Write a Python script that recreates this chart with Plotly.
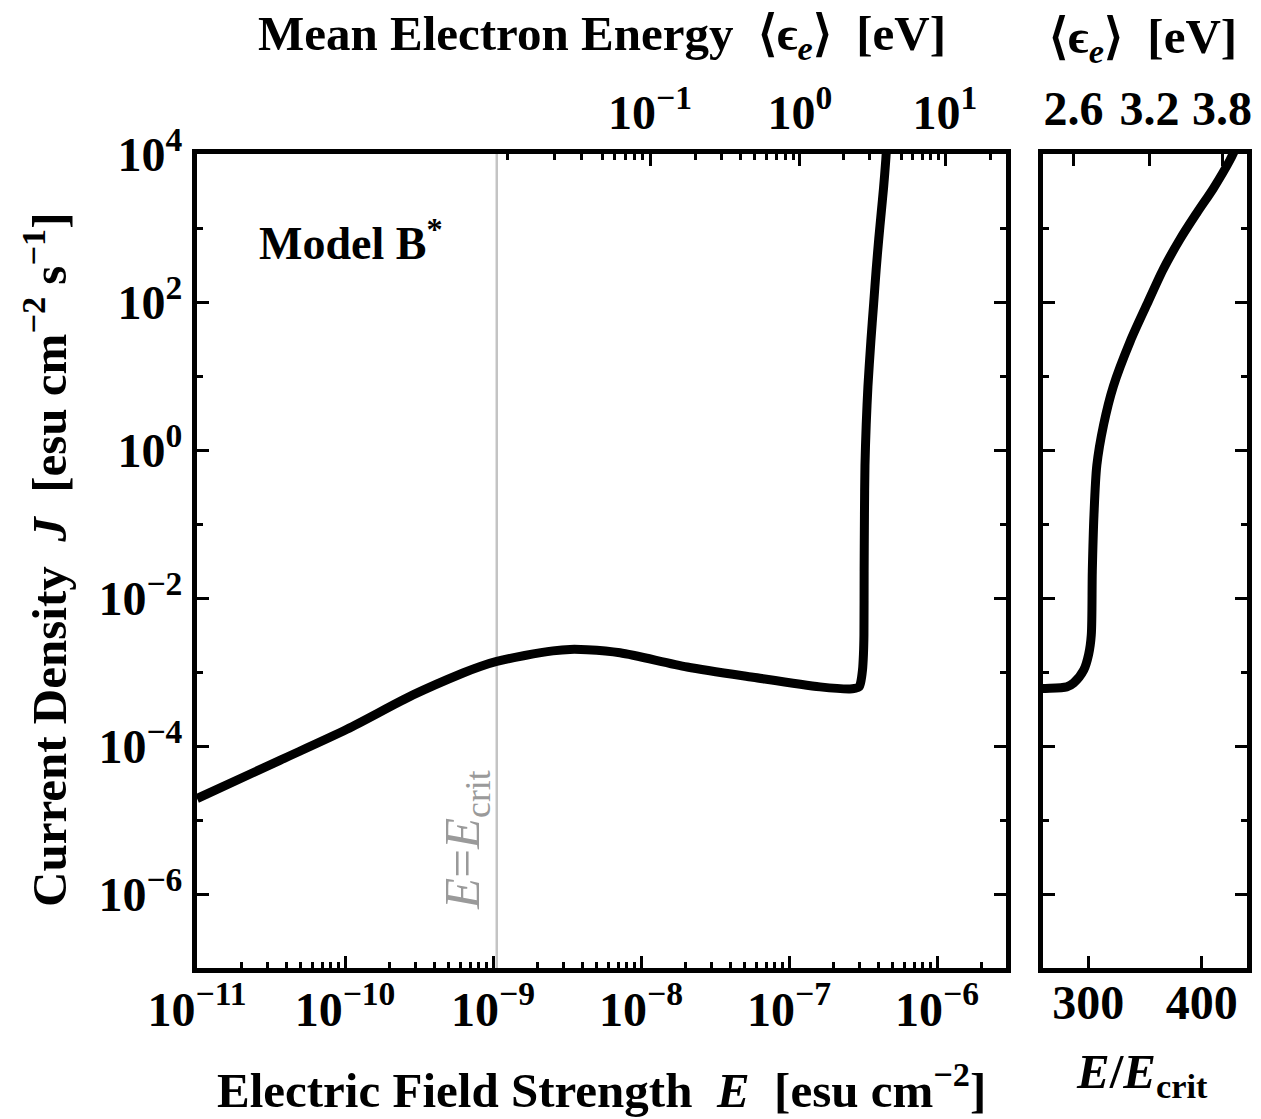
import numpy as np
import plotly.graph_objects as go

W, H = 1261, 1119
FONT = "Liberation Serif"

# Critical field strength [esu cm^-2]
E_CRIT = 1.06e-9

# Low-field branch: field strength E [esu cm^-2] and current density J [esu cm^-2 s^-1]
field_low = [1.0e-11, 3.63e-11, 1.03e-10, 2.88e-10, 6.27e-10, 8.2e-10, 1.06e-9,
             1.64e-9, 2.54e-9, 3.31e-9, 4.32e-9, 7.21e-9, 2.05e-8, 5.71e-8,
             1.62e-7, 2.58e-7]
current_low = [1.95e-5, 6.4e-5, 1.68e-4, 4.9e-4, 9.7e-4, 1.19e-3, 1.39e-3,
               1.67e-3, 1.93e-3, 2.02e-3, 2.0e-3, 1.82e-3, 1.17e-3, 8.5e-4,
               6.3e-4, 5.9e-4]

# Breakdown branch, given in units of E / E_crit
ratio_high = [262, 281, 287, 296, 300.3, 302.6, 303.5, 305, 307.5, 313.5, 322,
              337, 352, 366, 381, 396, 410.5, 425, 430]
current_high = [6.0e-4, 6.3e-4, 7.1e-4, 1.07e-3, 1.74e-3, 3.16e-3, 2.29e-2, 0.135,
                0.62, 2.2, 7.2, 29.5, 95, 275, 710, 1620, 3470, 8300, 1.2e4]

# Mean electron energy scale (top axis of the left panel): energy [eV] vs field E
energy_anchor_eV = [0.02, 0.03, 0.05, 0.1, 1, 10, 20]
energy_anchor_E = [1.245e-9, 2.62e-9, 5.45e-9, 1.151e-8, 1.186e-7, 1.132e-6, 2.28e-6]
energy_major_eV = [0.1, 1, 10]
energy_major_text = ["10<sup>\u22121</sup>", "10<sup>0</sup>", "10<sup>1</sup>"]
energy_minor_eV = [0.02, 0.03, 0.04, 0.05, 0.06, 0.07, 0.08, 0.09,
                   0.2, 0.3, 0.4, 0.5, 0.6, 0.7, 0.8, 0.9,
                   2, 3, 4, 5, 6, 7, 8, 9, 20]

# Mean electron energy scale of the right panel (positions in E / E_crit)
right_energy_text = ["2.6", "3.2", "3.8"]
right_energy_ratio = [287, 354, 418]

# Tick labels
x_major_exp = [-11, -10, -9, -8, -7, -6]
y_major_exp = [4, 2, 0, -2, -4, -6]
y_minor_exp = [3, 1, -1, -3, -5]
ratio_ticks = [300, 400]

field_all = np.concatenate([field_low, np.array(ratio_high) * E_CRIT])
current_all = np.concatenate([current_low, current_high])


def energy_to_field(ev):
    return 10 ** np.interp(np.log10(ev), np.log10(energy_anchor_eV), np.log10(energy_anchor_E))


def sup_label(e):
    s = str(e).replace("-", "\u2212")
    return f"10<sup>{s}</sup>"


def px_x(p):
    return p / W


def px_y(p):
    return 1 - p / H


x_minor = [m * 10.0 ** e for e in range(-11, -5) for m in range(2, 10)]

tickfont = dict(family=FONT, size=48, color="black", weight="bold")
frame = dict(showline=True, linewidth=5, linecolor="black", showgrid=False,
             zeroline=False, ticks="inside", tickcolor="black", tickwidth=3,
             automargin=False)

main_dom_x = [px_x(197), px_x(1006)]
right_dom_x = [px_x(1043), px_x(1247)]
dom_y = [px_y(968), px_y(154)]

fig = go.Figure()

# E = E_crit marker line
fig.add_trace(go.Scatter(x=[E_CRIT, E_CRIT], y=[1e-8, 1e5], mode="lines",
                         line=dict(color="#c4c4c4", width=2.5),
                         xaxis="x", yaxis="y", hoverinfo="skip"))
# Current density, left panel
fig.add_trace(go.Scatter(x=field_all, y=current_all, mode="lines",
                         line=dict(color="black", width=9, shape="spline", smoothing=0.8),
                         xaxis="x", yaxis="y"))
# Current density, right panel (zoom on breakdown)
fig.add_trace(go.Scatter(x=field_all / E_CRIT, y=current_all, mode="lines",
                         line=dict(color="black", width=9, shape="spline", smoothing=0.8),
                         xaxis="x2", yaxis="y2"))
# Carriers for the top energy axes
fig.add_trace(go.Scatter(x=[], y=[], xaxis="x3", yaxis="y", showlegend=False))
fig.add_trace(go.Scatter(x=[], y=[], xaxis="x4", yaxis="y2", showlegend=False))

fig.update_layout(
    width=W, height=H,
    margin=dict(l=0, r=0, t=0, b=0, autoexpand=False),
    paper_bgcolor="white", plot_bgcolor="white",
    showlegend=False,
    xaxis=dict(domain=main_dom_x, type="log", range=[-11, -5.534], anchor="y",
               mirror=True, ticklen=12, ticklabelstandoff=-5,
               tickvals=[10.0 ** e for e in x_major_exp],
               ticktext=[sup_label(e) for e in x_major_exp],
               minor=dict(tickvals=x_minor, ticks="inside", ticklen=6,
                          tickwidth=2.5, tickcolor="black"),
               tickfont=tickfont, **frame),
    yaxis=dict(domain=dom_y, type="log", range=[-7, 4], anchor="x",
               mirror="ticks", ticklen=12,
               tickvals=[10.0 ** e for e in y_major_exp],
               ticktext=[sup_label(e) for e in y_major_exp],
               minor=dict(tickvals=[10.0 ** e for e in y_minor_exp], ticks="inside",
                          ticklen=6, tickwidth=2.5, tickcolor="black"),
               tickfont=tickfont, **frame),
    xaxis3=dict(overlaying="x", side="top", type="log", range=[-11, -5.534],
                anchor="y", showline=False, showgrid=False, zeroline=False,
                automargin=False, ticklabelstandoff=14,
                ticks="inside", ticklen=12, tickwidth=3, tickcolor="black",
                tickvals=list(energy_to_field(energy_major_eV)),
                ticktext=energy_major_text,
                minor=dict(tickvals=list(energy_to_field(energy_minor_eV)),
                           ticks="inside", ticklen=6, tickwidth=2.5,
                           tickcolor="black"),
                tickfont=tickfont),
    xaxis2=dict(domain=right_dom_x, range=[260, 440], anchor="y2",
                mirror=True, ticklen=12, ticklabelstandoff=-12,
                tickvals=ratio_ticks, ticktext=[str(v) for v in ratio_ticks],
                tickfont=tickfont, **frame),
    yaxis2=dict(domain=dom_y, type="log", range=[-7, 4], anchor="x2",
                mirror="ticks", ticklen=12, showticklabels=False,
                tickvals=[10.0 ** e for e in y_major_exp],
                minor=dict(tickvals=[10.0 ** e for e in y_minor_exp], ticks="inside",
                           ticklen=6, tickwidth=2.5, tickcolor="black"),
                **frame),
    xaxis4=dict(overlaying="x2", side="top", range=[260, 440], anchor="y2",
                showline=False, showgrid=False, zeroline=False, automargin=False,
                ticklabelstandoff=18,
                ticks="inside", ticklen=12, tickwidth=3, tickcolor="black",
                tickvals=right_energy_ratio, ticktext=right_energy_text,
                tickfont=tickfont),
)

title_font = dict(family=FONT, size=49, color="black")
nb = "\u00a0"
annotations = [
    dict(text=f"<b>Electric Field Strength{nb}{nb}<i>E</i>{nb}{nb}[esu cm<sup>\u22122</sup>]</b>",
         x=px_x(601), y=px_y(1086), font=title_font),
    dict(text=f"<b>Mean Electron Energy{nb}{nb}\u27e8\u03f5<sub><i>e</i></sub>\u27e9{nb}{nb}[eV]</b>",
         x=px_x(602), y=px_y(36), font=title_font),
    dict(text=f"<b>\u27e8\u03f5<sub><i>e</i></sub>\u27e9{nb}{nb}[eV]</b>",
         x=px_x(1143), y=px_y(40), font=title_font),
    dict(text="<b><i>E</i>/<i>E</i><sub>crit</sub></b>",
         x=px_x(1142), y=px_y(1074), font=title_font),
    dict(text=f"<b>Current Density{nb}{nb}<i>J</i>{nb}{nb}[esu cm<sup>\u22122</sup> s<sup>\u22121</sup>]</b>",
         x=px_x(45), y=px_y(560), textangle=-90, font=title_font),
    dict(text="<b>Model B<sup>*</sup></b>", x=px_x(257), y=px_y(240),
         xanchor="left", font=dict(family=FONT, size=46, color="black")),
    dict(text="<i>E</i>=<i>E</i><sub>crit</sub>", x=px_x(466), y=px_y(840),
         textangle=-90, font=dict(family=FONT, size=51, color="#9a9a9a")),
]
for a in annotations:
    a.setdefault("xanchor", "center")
    a.update(xref="paper", yref="paper", yanchor="middle", showarrow=False)
fig.update_layout(annotations=annotations)

fig.write_html("out.html")
